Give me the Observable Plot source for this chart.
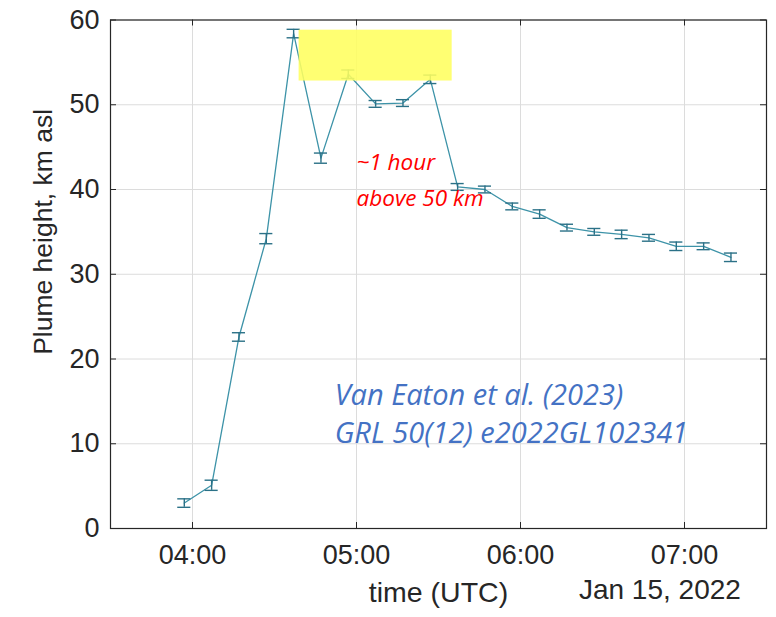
<!DOCTYPE html>
<html>
<head>
<meta charset="utf-8">
<script src="https://cdn.jsdelivr.net/npm/d3@7"></script>
<script src="https://cdn.jsdelivr.net/npm/@observablehq/plot@0.6"></script>
<style>
  html, body { margin: 0; padding: 0; background: #ffffff; }
  #chart { width: 776px; height: 617px; }
</style>
</head>
<body>
<div id="chart"></div>
<script>
// ---- data ----
const times = ["03:57","04:07","04:17","04:27","04:37","04:47","04:57","05:07","05:17","05:27","05:37",
               "05:47","05:57","06:07","06:17","06:27","06:37","06:47","06:57","07:07","07:17"];
const heights = [3.0, 5.1, 22.6, 34.2, 58.4, 43.7, 53.6, 50.1, 50.2, 53.0, 40.3,
                 40.0, 38.0, 37.1, 35.5, 35.0, 34.7, 34.3, 33.3, 33.3, 32.0];
const errors = [0.5, 0.6, 0.5, 0.6, 0.5, 0.6, 0.5, 0.4, 0.4, 0.5, 0.4,
                0.4, 0.4, 0.5, 0.4, 0.4, 0.5, 0.4, 0.5, 0.4, 0.5];
const xTickLabels = ["04:00","05:00","06:00","07:00"];
const yTicks = [0, 10, 20, 30, 40, 50, 60];
const xDomainLabels = ["03:30","07:30"];
const dateLabel = "Jan 15, 2022";
const highlight = {start: "04:39", end: "05:35", low: 52.8, high: 58.8};
const noteRed = ["~1 hour", "above 50 km"];
const noteBlue = ["Van Eaton et al. (2023)", "GRL 50(12) e2022GL102341"];

const day = "2022-01-15";
const toDate = s => new Date(`${day}T${s}:00Z`);
const data = times.map((t, i) => ({t: toDate(t), h: heights[i], e: errors[i]}));
const capHalfMs = 2.4 * 60 * 1000;

const W = 776, H = 617, mL = 110, mR = 10, mT = 19.5, mB = 89;
const frameW = W - mL - mR, frameH = H - mT - mB;
const xTicks = xTickLabels.map(toDate);
const ink = "#262626";
const lineColor = "#3d93a8";
const barColor = "#2b7187";

const chart = Plot.plot({
  width: W, height: H,
  marginLeft: mL, marginRight: mR, marginTop: mT, marginBottom: mB,
  style: {fontFamily: "'Liberation Sans', Arial, sans-serif", color: ink, background: "#ffffff"},
  x: {type: "utc", domain: xDomainLabels.map(toDate)},
  y: {domain: [0, 60]},
  marks: [
    Plot.gridX(xTicks, {stroke: "#dcdcdc", strokeOpacity: 1}),
    Plot.gridY(yTicks, {stroke: "#dcdcdc", strokeOpacity: 1}),
    // inward ticks on all four sides
    Plot.tickX(xTicks, {x: d => d, insetTop: frameH - 6, stroke: ink}),
    Plot.tickX(xTicks, {x: d => d, insetBottom: frameH - 6, stroke: ink}),
    Plot.tickY(yTicks, {y: d => d, insetRight: frameW - 6, stroke: ink}),
    Plot.tickY(yTicks, {y: d => d, insetLeft: frameW - 6, stroke: ink}),
    Plot.line(data, {x: "t", y: "h", stroke: lineColor, strokeWidth: 1.3}),
    Plot.ruleX(data, {x: "t", y1: d => d.h - d.e, y2: d => d.h + d.e, stroke: barColor, strokeWidth: 1.4}),
    Plot.ruleY(data, {y: d => d.h + d.e, x1: d => new Date(+d.t - capHalfMs), x2: d => new Date(+d.t + capHalfMs), stroke: barColor, strokeWidth: 1.4}),
    Plot.ruleY(data, {y: d => d.h - d.e, x1: d => new Date(+d.t - capHalfMs), x2: d => new Date(+d.t + capHalfMs), stroke: barColor, strokeWidth: 1.4}),
    Plot.rect([highlight], {x1: d => toDate(d.start), x2: d => toDate(d.end), y1: "low", y2: "high", fill: "#ffff5e", fillOpacity: 0.88}),
    Plot.frame({stroke: ink, strokeWidth: 1.2}),
    Plot.axisX(xTicks, {tickSize: 0, tickPadding: 16, fontSize: 27, tickFormat: d3.utcFormat("%H:%M"), label: null, fill: ink}),
    Plot.axisY(yTicks, {tickSize: 0, tickPadding: 11, fontSize: 27, label: null, fill: ink}),
    Plot.text(["Plume height, km asl"], {x: () => toDate(xDomainLabels[0]), y: () => 35.0, text: d => d, rotate: -90, dx: -67, fontSize: 26.5, fill: ink}),
    Plot.text(["time (UTC)"], {x: () => toDate("05:30"), frameAnchor: "bottom", text: d => d, dy: 73, fontSize: 28.5, fill: ink}),
    Plot.text([dateLabel], {x: () => toDate("06:51"), frameAnchor: "bottom", text: d => d, dy: 70, fontSize: 28, fill: ink}),
    Plot.text(noteRed, {x: () => toDate("05:00"), y: (d, i) => [43.1, 38.9][i], text: d => d, textAnchor: "start", fontSize: 22.5, fontStyle: "italic", fontFamily: "'Open Sans', sans-serif", fill: "#ff0000"}),
    Plot.text(noteBlue, {x: () => toDate("04:52"), y: (d, i) => [15.7, 11.2][i], text: d => d, textAnchor: "start", fontSize: 29, fontStyle: "italic", fontFamily: "'Open Sans', sans-serif", fill: "#4472c4"})
  ]
});
document.getElementById("chart").appendChild(chart);
</script>
</body>
</html>
